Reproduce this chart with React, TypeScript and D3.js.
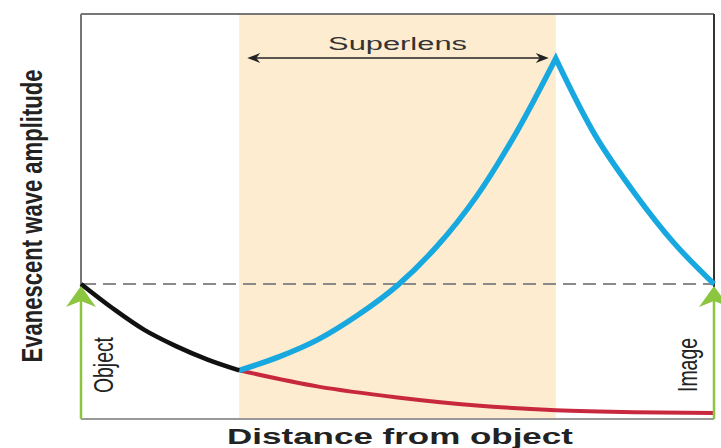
import React, { useLayoutEffect, useRef, useState } from "react";
import * as d3 from "d3";

// Distance is measured in units where the object sits at 0, the superlens
// occupies 1..3 and the image plane is at 4. Amplitude is relative to the
// object's amplitude (1 = dashed reference line).
const lensStart = 1;
const lensEnd = 3;
const referenceAmplitude = 1;

const objectDecayX = [0, 0.2, 0.4, 0.6, 0.8, 1.0];
const objectDecayY = [1.0, 0.82, 0.66, 0.54, 0.44, 0.36];

const lensGrowthX = [1, 1.25, 1.5, 1.75, 2, 2.25, 2.5, 2.75, 3];
const lensGrowthY = [0.36, 0.46, 0.59, 0.77, 0.99, 1.28, 1.65, 2.12, 2.67];

const imageDecayX = [3, 3.25, 3.5, 3.75, 4];
const imageDecayY = [2.67, 2.1, 1.67, 1.3, 1.0];

const noLensX = [1, 1.5, 2, 2.5, 3, 3.5, 4];
const noLensY = [0.36, 0.24, 0.16, 0.1, 0.065, 0.05, 0.045];

const yLabel = "Evanescent wave amplitude";
const xLabel = "Distance from object";
const lensLabel = "Superlens";
const objectLabel = "Object";
const imageLabel = "Image";

const W = 721;
const H = 448;
const left = 81;
const right = 714;
const top = 14;
const bottom = 419;

const FONT = "'Liberation Sans Narrow', 'Arial Narrow', 'Liberation Sans', Arial, sans-serif";
const FONT_WIDE = "'Liberation Sans', Arial, sans-serif";

const zip = (xs: number[], ys: number[]) => xs.map((x, i) => [x, ys[i]] as [number, number]);

type FitProps = {
  x: number;
  y: number;
  rotate?: number;
  length: number;
  text: string;
  fontFamily: string;
  fontSize: number;
  fontWeight?: number;
  fill: string;
};

// Text centred on (x, y) whose run is scaled along its baseline to a given length
function FitText({ x, y, rotate = 0, length, text, fontFamily, fontSize, fontWeight = 400, fill }: FitProps) {
  const ref = useRef<SVGTextElement>(null);
  const [sx, setSx] = useState(1);
  useLayoutEffect(() => {
    if (ref.current) {
      const natural = ref.current.getComputedTextLength();
      if (natural > 0) setSx(length / natural);
    }
  }, [length, text, fontFamily, fontSize, fontWeight]);
  return (
    <text
      ref={ref}
      transform={`translate(${x},${y}) rotate(${rotate}) scale(${sx},1)`}
      textAnchor="middle"
      fontFamily={fontFamily}
      fontSize={fontSize}
      fontWeight={fontWeight}
      fill={fill}
    >
      {text}
    </text>
  );
}

export default function App() {
  const x = d3.scaleLinear().domain([0, 4]).range([left, right]);
  const y = d3.scaleLinear().domain([0, 1]).range([bottom, 284]);

  const smooth = d3
    .line<[number, number]>()
    .x((d) => x(d[0]))
    .y((d) => y(d[1]))
    .curve(d3.curveCatmullRom.alpha(0.5));

  const monotone = d3
    .line<[number, number]>()
    .x((d) => x(d[0]))
    .y((d) => y(d[1]))
    .curve(d3.curveMonotoneX);

  const blackPath = smooth(zip(objectDecayX, objectDecayY)) || "";
  const risePath = smooth(zip(lensGrowthX, lensGrowthY)) || "";
  const fallPath = smooth(zip(imageDecayX, imageDecayY)) || "";
  const bluePath = risePath + fallPath.replace(/^M/, "L");
  const redPath = monotone(zip(noLensX, noLensY)) || "";

  const refY = y(referenceAmplitude);
  const arrowY = 58;
  const arrowL = x(lensStart) + 8;
  const arrowR = x(lensEnd) - 7;

  // Horizontal arrow head pointing in direction dir (+1 right, -1 left)
  const hHead = (tipX: number, cy: number, dir: number) => {
    const len = 13;
    const hw = 5;
    const notch = 4;
    return `M${tipX},${cy} L${tipX - dir * len},${cy - hw} L${tipX - dir * (len - notch)},${cy} L${tipX - dir * len},${cy + hw} Z`;
  };

  // Upward arrow head with a notched back
  const vHead = (cx: number, tipY: number) => {
    const len = 21;
    const hw = 15;
    const notch = 6;
    return `M${cx},${tipY} L${cx + hw},${tipY + len} L${cx},${tipY + len - notch} L${cx - hw},${tipY + len} Z`;
  };

  const green = "#8cc540";

  return (
    <svg
      width={W}
      height={H}
      style={{ position: "absolute", left: 0, top: 0, background: "#ffffff" }}
    >
      <rect x={0} y={0} width={W} height={H} fill="#ffffff" />
      {/* superlens slab */}
      <rect
        x={x(lensStart)}
        y={top + 1}
        width={x(lensEnd) - x(lensStart)}
        height={bottom - top - 2}
        fill="#fdecd0"
      />
      {/* plot frame */}
      <line x1={left} y1={top} x2={right} y2={top} stroke="#777" strokeWidth={2} />
      <line x1={left} y1={top} x2={left} y2={bottom} stroke="#777" strokeWidth={2} />
      <line x1={left} y1={bottom} x2={right} y2={bottom} stroke="#999" strokeWidth={2} />
      <line x1={right} y1={top} x2={right} y2={bottom} stroke="#333" strokeWidth={2} />

      {/* reference amplitude */}
      <line
        x1={left + 2}
        y1={refY}
        x2={right}
        y2={refY}
        stroke="#8a8a8a"
        strokeWidth={2}
        strokeDasharray="13 7"
      />

      {/* superlens span arrow */}
      <line x1={arrowL + 4} y1={arrowY} x2={arrowR - 4} y2={arrowY} stroke="#222" strokeWidth={1.6} />
      <path d={hHead(arrowL, arrowY, -1)} fill="#222" />
      <path d={hHead(arrowR, arrowY, 1)} fill="#222" />
      <FitText
        x={(x(lensStart) + x(lensEnd)) / 2}
        y={50}
        length={139}
        text={lensLabel}
        fontFamily={FONT_WIDE}
        fontSize={18}
        fill="#333"
      />

      {/* curves */}
      <path d={redPath} fill="none" stroke="#c8283e" strokeWidth={4} />
      <path d={bluePath} fill="none" stroke="#18a8e0" strokeWidth={5.5} strokeLinejoin="miter" />
      <path d={blackPath} fill="none" stroke="#111" strokeWidth={4.5} />

      {/* object and image arrows */}
      <line x1={x(0)} y1={bottom} x2={x(0)} y2={refY + 12} stroke={green} strokeWidth={2.5} />
      <path d={vHead(x(0), refY + 2)} fill={green} />
      <line x1={x(4)} y1={bottom} x2={x(4)} y2={refY + 12} stroke={green} strokeWidth={2.5} />
      <path d={vHead(x(4), refY + 2)} fill={green} />

      <FitText x={113} y={365} rotate={-90} length={56} text={objectLabel} fontFamily={FONT} fontSize={27} fill="#222" />
      <FitText x={697} y={365} rotate={-90} length={54} text={imageLabel} fontFamily={FONT} fontSize={27} fill="#222" />

      {/* axis titles */}
      <FitText
        x={42}
        y={216}
        rotate={-90}
        length={293}
        text={yLabel}
        fontFamily={FONT}
        fontWeight={700}
        fontSize={30}
        fill="#222"
      />
      <FitText
        x={400}
        y={444}
        length={346}
        text={xLabel}
        fontFamily={FONT_WIDE}
        fontWeight={900}
        fontSize={22}
        fill="#222"
      />
    </svg>
  );
}
